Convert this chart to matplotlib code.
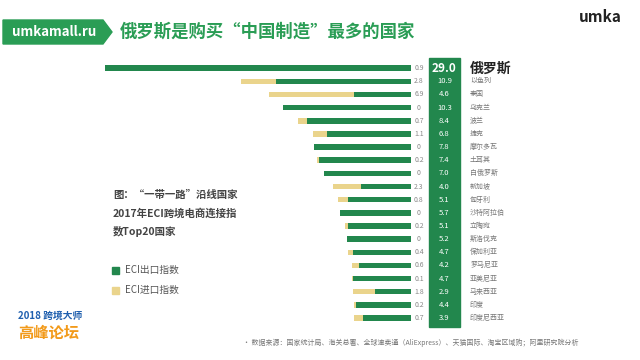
import matplotlib
matplotlib.use('Agg')
import matplotlib.pyplot as plt
from matplotlib.patches import Rectangle, Polygon
import numpy as np

plt.rcParams['font.family'] = ['Noto Sans CJK SC', 'DejaVu Sans']

# 数据
countries = ['俄罗斯', '以色列', '泰国', '乌克兰', '波兰', '捷克', '摩尔多瓦', '土耳其',
             '白俄罗斯', '新加坡', '匈牙利', '沙特阿拉伯', '立陶宛', '斯洛伐克', '保加利亚',
             '罗马尼亚', '亚美尼亚', '马来西亚', '印度', '印度尼西亚']
export_idx = [29.0, 10.9, 4.6, 10.3, 8.4, 6.8, 7.8, 7.4, 7.0, 4.0,
              5.1, 5.7, 5.1, 5.2, 4.7, 4.2, 4.7, 2.9, 4.4, 3.9]
import_idx = [0.9, 2.8, 6.9, 0, 0.7, 1.1, 0, 0.2, 0, 2.3,
              0.8, 0, 0.2, 0, 0.4, 0.6, 0.1, 1.8, 0.2, 0.7]

green = '#22874d'
yellow = '#ead48c'
W, H = 640, 360

fig = plt.figure(figsize=(6.4, 3.6), dpi=100, facecolor='w')

# 右侧绿色数值栏（放在最底层）
fig.patches.append(Rectangle((429 / W, 1 - 327 / H), 31 / W, 269 / H,
                             transform=fig.transFigure, color=green, zorder=-5))

# 主图
ax = fig.add_axes([105 / W, 1 - 324.6 / H, 306 / W, 263 / H])
ax.set_zorder(2)
y = np.arange(len(countries))
ax.barh(y, export_idx, height=0.42, color=green)
ax.barh(y, import_idx, left=export_idx, height=0.42, color=yellow)
ax.set_xlim(24.7, 0)
ax.set_ylim(len(countries) - 0.5, -0.5)
ax.axis('off')

tr = ax.get_yaxis_transform()
for i, name in enumerate(countries):
    imp = import_idx[i]
    ax.text(1.026, i, '%g' % imp if imp == 0 else '%.1f' % imp, transform=tr,
            ha='center', va='center', fontsize=5, color='#888888', clip_on=False)
    if i == 0:
        ax.text(1.109, i, '%.1f' % export_idx[i], transform=tr, ha='center', va='center',
                fontsize=8.5, color='white', fontweight='bold', clip_on=False)
        ax.text(1.193, i, name, transform=tr, ha='left', va='center',
                fontsize=10, color='#222222', fontweight='bold', clip_on=False)
    else:
        ax.text(1.109, i, '%.1f' % export_idx[i], transform=tr, ha='center', va='center',
                fontsize=5.5, color='white', clip_on=False)
        ax.text(1.193, i, name, transform=tr, ha='left', va='center',
                fontsize=5, color='#777777', clip_on=False)

# 标题标签
tag = Polygon([(3 / W, 1 - 20 / H), (103 / W, 1 - 20 / H), (112 / W, 1 - 32 / H),
               (103 / W, 1 - 44 / H), (3 / W, 1 - 44 / H)],
              closed=True, transform=fig.transFigure, color='#2a9d55')
fig.patches.append(tag)
fig.text(54 / W, 1 - 32 / H, 'umkamall.ru', ha='center', va='center',
         fontsize=9.5, color='white', fontweight='bold')
fig.text(120 / W, 1 - 32 / H, '俄罗斯是购买“中国制造”最多的国家', ha='left', va='center',
         fontsize=12.5, color='#2a9d55', fontweight='bold')
fig.text(600 / W, 1 - 17 / H, 'umka', ha='center', va='center',
         fontsize=11, color='#222222', fontweight='bold')

# 左侧说明
for k, line in enumerate(['图：“一带一路”沿线国家', '2017年ECI跨境电商连接指', '数Top20国家']):
    fig.text(113 / W, 1 - (195 + k * 18) / H, line, ha='left', va='center',
             fontsize=7.5, color='#444444', fontweight='bold')

# 图例
for k, (c, lab) in enumerate([(green, 'ECI出口指数'), (yellow, 'ECI进口指数')]):
    yy = 270 + k * 20
    fig.patches.append(Rectangle((112 / W, 1 - (yy + 3.5) / H), 7 / W, 7 / H,
                                 transform=fig.transFigure, color=c))
    fig.text(125 / W, 1 - yy / H, lab, ha='left', va='center', fontsize=7, color='#555555')

# 左下角标志
fig.text(18 / W, 1 - 316 / H, '2018 跨境大师', ha='left', va='center',
         fontsize=7, color='#1f5fae', fontweight='bold')
fig.text(18 / W, 1 - 333 / H, '高峰论坛', ha='left', va='center',
         fontsize=11, color='#f29a1a', fontweight='bold')

# 数据来源
fig.text(243 / W, 1 - 343 / H,
         '• 数据来源：国家统计局、海关总署、全球速卖通（AliExpress）、天猫国际、淘宝区域购；阿里研究院分析',
         ha='left', va='center', fontsize=5, color='#777777')

fig.savefig('out.png', dpi=100, facecolor='w')
